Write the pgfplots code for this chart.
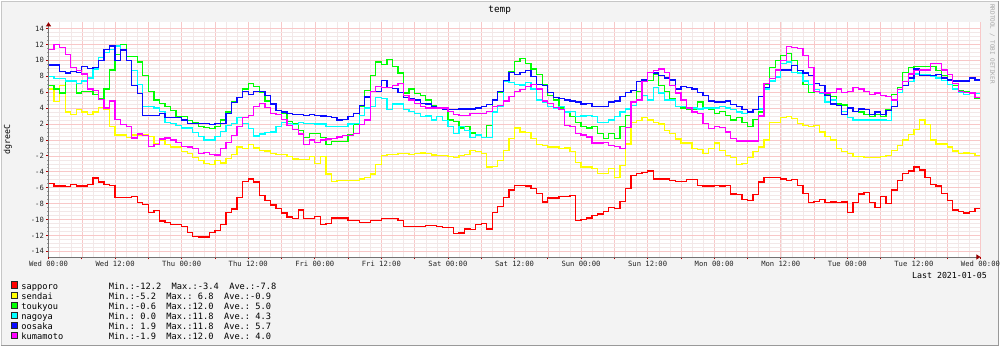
\documentclass[border=0pt]{standalone}
\usepackage{fontspec}
\setmainfont{DejaVu Sans Mono}
\usepackage{pgfplots}
\pgfplotsset{compat=1.18}
\usepackage{pgfplotstable}
\usetikzlibrary{arrows.meta}

\definecolor{bgc}{RGB}{243,243,243}
\definecolor{mgrid}{RGB}{248,200,200}
\definecolor{ngrid}{RGB}{242,232,232}
\definecolor{arrowc}{RGB}{150,0,0}
\definecolor{cR}{RGB}{255,0,0}
\definecolor{cY}{RGB}{255,255,0}
\definecolor{cG}{RGB}{0,255,0}
\definecolor{cC}{RGB}{0,255,255}
\definecolor{cB}{RGB}{10,10,255}
\definecolor{cM}{RGB}{255,0,255}

\pgfplotstableread{
h s1 s2 s3 s4 s5 s6
0 -5.5 6.4 6.8 8.0 9.4 11.4
1 -5.8 4.8 6.4 7.7 9.4 12.0
2 -5.8 6.8 5.9 7.7 8.6 11.6
3 -5.9 3.5 7.5 7.4 8.4 10.7
4 -5.6 3.2 7.3 7.4 8.6 9.1
5 -5.8 3.8 5.9 7.1 8.5 8.7
6 -5.8 3.5 6.1 7.4 9.2 8.3
7 -5.6 3.2 6.1 7.8 9.0 6.4
8 -4.8 3.5 5.7 8.9 9.1 6.2
9 -5.3 4.1 5.2 10.4 10.0 5.1
10 -5.6 3.8 6.4 11.0 11.4 4.0
11 -5.7 1.7 8.8 11.4 11.8 4.9
12 -7.2 0.6 10.7 11.8 10.0 2.6
13 -7.2 0.6 12.0 11.4 11.3 1.9
14 -7.2 0.3 10.5 10.0 10.0 1.7
15 -7.1 0.6 10.5 8.7 6.8 0.25
16 -7.9 0.6 9.8 7.0 5.85 0.75
17 -8.1 0.6 8.1 4.2 3.1 0.55
18 -9.1 0.4 6.1 4.2 3.1 -0.8
19 -8.9 -0.5 5.0 4.0 3.1 -0.6
20 -10.2 -0.1 4.6 3.6 3.3 0.1
21 -10.4 -0.6 4.2 2.2 2.8 0.25
22 -10.6 -0.9 3.7 2.1 2.8 0.0
23 -10.6 -0.9 2.9 1.8 2.8 -0.3
24 -10.9 -1.5 2.9 1.5 2.5 -0.8
25 -11.6 -1.7 2.45 1.5 2.1 -0.9
26 -12.1 -2.2 2.2 0.96 2.1 -1.1
27 -12.2 -2.6 1.7 0.4 2.1 -1.7
28 -12.2 -3.0 1.6 0.0 2.1 -1.6
29 -11.6 -3.1 1.4 0.0 1.9 -1.8
30 -11.4 -2.6 1.7 0.4 2.1 -1.9
31 -10.6 -2.9 2.5 1.1 2.1 -1.1
32 -9.1 -2.3 3.5 1.8 3.3 -0.3
33 -8.7 -1.8 4.75 2.1 4.7 0.55
34 -7.2 -0.9 5.3 2.8 5.35 1.7
35 -5.2 -1.1 6.4 2.1 6.1 2.8
36 -4.9 -0.6 7.1 1.4 5.7 3.05
37 -5.3 -1.0 6.7 0.5 6.1 4.2
38 -7.0 -1.3 6.0 0.75 6.1 4.6
39 -7.6 -1.4 4.9 0.96 5.6 4.1
40 -8.2 -1.7 4.6 1.0 4.5 3.3
41 -8.6 -1.8 3.7 1.7 3.7 3.2
42 -9.2 -1.8 3.3 2.2 3.5 2.6
43 -9.7 -2.1 2.3 2.1 3.3 1.8
44 -9.9 -2.4 2.0 1.9 3.2 1.3
45 -8.8 -2.5 1.2 2.2 3.2 0.75
46 -9.9 -2.5 0.3 2.1 3.05 -0.6
47 -9.9 -2.1 0.8 2.1 3.2 0.0
48 -9.6 -3.0 0.8 2.0 3.1 -0.3
49 -10.6 -2.1 0.3 2.0 3.0 0.0
50 -10.5 -4.3 -0.6 1.7 2.9 0.1
51 -9.8 -5.2 -0.2 1.7 2.8 0.15
52 -9.8 -5.1 -0.2 1.7 2.5 0.35
53 -9.8 -5.1 -0.2 1.7 2.6 0.55
54 -10.1 -5.1 0.6 2.0 2.9 0.55
55 -10.1 -5.1 2.0 2.1 3.35 0.8
56 -10.4 -4.9 4.2 3.1 4.3 1.95
57 -10.4 -4.7 6.2 4.0 5.4 2.5
58 -10.1 -4.3 8.1 4.2 6.1 6.1
59 -10.1 -3.1 9.8 5.3 6.1 6.7
60 -9.9 -2.0 9.5 5.2 7.5 6.6
61 -9.9 -1.8 10.1 3.8 6.6 6.6
62 -9.9 -1.8 9.2 4.5 6.5 6.8
63 -10.1 -1.7 8.4 4.5 6.0 7.1
64 -10.9 -1.7 5.9 3.8 5.3 5.6
65 -10.9 -1.8 6.4 3.6 5.2 5.0
66 -10.9 -1.7 5.8 3.3 5.0 4.6
67 -10.9 -1.65 5.6 2.9 4.6 4.2
68 -10.8 -1.7 5.0 3.0 4.5 4.0
69 -10.8 -1.9 4.3 2.5 4.2 4.0
70 -10.9 -2.0 4.0 2.9 4.0 4.0
71 -11.0 -2.0 3.9 2.4 3.8 4.0
72 -11.0 -2.1 2.5 1.7 3.8 3.6
73 -11.8 -2.2 2.35 0.8 3.8 3.2
74 -11.7 -2.0 1.5 1.7 3.9 3.1
75 -11.2 -1.8 1.7 1.2 3.9 3.1
76 -11.3 -1.3 0.85 0.3 3.9 3.3
77 -10.6 -1.5 0.7 0.6 4.0 3.35
78 -10.5 -1.7 0.3 0.3 4.2 3.35
79 -11.2 -3.4 1.8 0.3 4.45 3.6
80 -9.1 -3.3 5.0 3.5 5.0 4.2
81 -8.4 -2.6 6.0 4.2 6.1 4.3
82 -7.2 -1.3 7.5 7.3 7.5 4.9
83 -6.3 0.15 8.6 7.2 8.5 5.5
84 -5.7 1.5 9.9 7.0 8.2 6.1
85 -5.7 1.0 10.2 6.9 8.5 6.3
86 -5.8 0.9 9.6 7.2 8.7 6.7
87 -6.1 0.15 8.9 6.4 8.0 7.0
88 -6.7 -0.6 8.2 5.0 7.0 6.4
89 -7.8 -0.7 7.0 4.7 6.8 4.9
90 -7.3 -0.9 5.6 4.2 6.0 4.6
91 -7.3 -0.9 5.0 4.0 5.3 4.1
92 -7.1 -1.1 4.0 4.2 5.2 3.8
93 -7.1 -1.0 3.6 3.5 5.0 1.8
94 -7.0 -1.5 2.9 3.6 4.9 1.7
95 -10.1 -2.8 2.2 2.95 4.75 0.8
96 -10.0 -3.4 1.7 3.0 4.5 0.6
97 -9.8 -3.4 1.5 3.1 4.6 0.35
98 -9.5 -3.6 1.7 2.9 4.2 -0.4
99 -9.3 -4.2 0.8 2.2 4.2 -0.4
100 -9.0 -4.2 0.15 2.2 4.2 -0.3
101 -8.5 -3.6 0.8 2.5 4.75 -0.7
102 -8.6 -4.7 0.15 2.9 4.9 -0.8
103 -7.7 -3.2 1.7 3.5 5.5 -1.1
104 -6.1 -0.5 3.1 3.9 6.0 1.6
105 -4.5 2.2 4.75 4.3 6.2 4.75
106 -4.2 2.4 6.1 5.0 7.3 5.0
107 -4.1 2.8 7.3 5.6 7.55 7.3
108 -3.9 2.5 7.5 5.0 8.5 8.5
109 -4.9 2.2 8.2 6.6 8.4 8.7
110 -4.9 2.0 6.8 5.9 8.1 8.9
111 -4.9 1.2 6.1 5.0 7.8 8.5
112 -5.1 0.8 5.2 5.0 7.55 6.8
113 -5.2 0.1 4.2 4.2 6.4 5.9
114 -5.2 -0.4 4.0 4.2 6.7 5.0
115 -5.0 -0.4 3.9 4.0 6.55 4.0
116 -5.0 -1.1 3.8 4.0 6.4 3.5
117 -5.7 -1.2 4.75 3.9 6.0 3.35
118 -5.8 -1.7 4.0 4.0 5.6 2.1
119 -5.8 -1.1 3.9 4.0 4.9 1.4
120 -5.7 -0.4 3.3 4.0 4.75 1.7
121 -5.8 -1.3 3.6 4.2 4.75 1.6
122 -5.7 -1.95 3.1 4.0 4.9 1.0
123 -6.8 -2.2 2.5 3.8 4.45 0.15
124 -6.9 -3.1 2.8 3.5 4.2 -0.15
125 -7.5 -3.0 2.2 3.3 3.8 -0.15
126 -7.6 -2.2 1.7 3.6 3.5 -0.15
127 -6.9 -1.5 2.6 3.8 3.8 -0.15
128 -5.3 -0.9 3.5 3.9 5.5 3.0
129 -4.75 0.0 7.0 6.4 6.6 7.1
130 -4.75 2.2 9.1 7.4 7.7 7.7
131 -4.75 2.2 10.0 7.9 8.8 8.8
132 -4.9 2.8 10.6 9.6 8.8 10.0
133 -5.1 2.95 10.9 9.8 8.8 11.7
134 -5.0 2.7 10.0 8.5 9.35 11.6
135 -5.7 2.1 8.4 8.4 8.7 11.5
136 -6.7 1.8 7.0 7.4 8.4 10.6
137 -7.9 1.7 6.0 7.0 8.1 9.1
138 -7.7 1.8 6.1 6.3 7.1 6.1
139 -7.5 1.0 5.8 5.9 6.8 6.0
140 -7.9 0.45 5.7 4.75 5.6 5.9
141 -7.8 0.0 5.5 5.0 4.5 6.0
142 -7.9 -1.1 4.5 4.3 4.3 6.4
143 -7.8 -1.5 4.4 3.6 3.2 6.0
144 -9.1 -1.7 4.1 2.8 4.0 6.1
145 -7.9 -2.1 3.6 2.5 3.6 6.55
146 -6.8 -2.1 3.5 2.5 3.9 6.4
147 -6.6 -2.2 3.2 2.5 3.8 6.1
148 -7.9 -2.2 2.95 2.5 3.2 5.7
149 -8.5 -2.2 3.2 2.5 3.5 5.9
150 -7.1 -2.1 2.9 2.5 3.2 5.6
151 -8.0 -2.0 3.8 2.45 3.7 5.45
152 -6.3 -1.3 5.7 5.0 4.2 5.0
153 -5.1 -0.7 6.6 6.0 6.3 6.3
154 -4.2 0.0 8.5 6.8 6.8 7.3
155 -3.9 0.7 9.1 7.3 7.8 8.3
156 -3.4 1.3 9.2 8.3 8.9 8.7
157 -3.8 2.5 9.2 8.2 8.1 8.8
158 -4.7 1.95 9.2 8.2 8.1 8.8
159 -5.6 0.0 9.2 8.0 8.1 9.6
160 -5.8 -0.5 8.7 7.8 8.2 9.6
161 -6.7 -0.5 8.1 7.5 7.8 8.8
162 -7.6 -0.9 7.5 7.0 7.55 8.2
163 -8.8 -1.4 6.8 6.4 7.4 7.1
164 -9.0 -1.7 6.2 6.0 7.4 6.1
165 -9.2 -1.65 6.1 5.7 7.4 6.0
166 -9.0 -1.7 6.0 5.8 7.8 5.9
167 -8.6 -1.95 5.2 5.8 7.55 5.3
168 -8.6 -1.95 5.2 5.8 7.55 5.3
}\datatable

\pgfplotsset{
  sq/.style={legend image code/.code={\filldraw[draw=black!85,fill=#1,line width=0.6pt] (0.3pt,-1pt) rectangle (5.7pt,5.3pt);}},
}

\begin{document}
\begin{tikzpicture}[x=1pt,y=1pt]
\fill[bgc] (0,0) rectangle (1000,346);
\draw[gray!45,line width=1pt] (0.5,0.5) rectangle (999.5,345.5);
\draw[gray!80,line width=1.2pt] (999.4,0) -- (999.4,346);
\draw[gray!80,line width=1.2pt] (0,0.6) -- (1000,0.6);
\useasboundingbox (0,0) rectangle (1000,346);
\begin{axis}[
  at={(48pt,89.3pt)}, anchor=south west,
  scale only axis, width=933pt, height=235pt,
  xmin=0, xmax=168, ymin=-14.72, ymax=14.79,
  axis background/.style={fill=white},
  axis x line*=bottom, axis y line*=left,
  axis line style={black!55, line width=0.8pt},
  x axis line style={-{Triangle[length=4pt,width=5pt,color=arrowc]}},
  y axis line style={-{Triangle[length=4pt,width=5pt,color=arrowc]}},
  xtick={0,6,...,168},
  minor xtick={0,2,...,168},
  xticklabels={Wed 00:00,,Wed 12:00,,Thu 00:00,,Thu 12:00,,Fri 00:00,,Fri 12:00,,Sat 00:00,,Sat 12:00,,Sun 00:00,,Sun 12:00,,Mon 00:00,,Mon 12:00,,Tue 00:00,,Tue 12:00,,Wed 00:00},
  ytick={-14,-12,...,14},
  yticklabels={-14,-12,-10,-8,-6,-4,-2,0,2,4,6,8,10,12,14},
  minor y tick num=3,
  grid=both,
  major grid style={mgrid, line width=0.5pt},
  minor grid style={ngrid, line width=0.4pt},
  tick align=outside,
  major tick length=2.5pt, minor tick length=1.2pt,
  major tick style={red!70!black, line width=0.7pt},
  minor tick style={black!40, line width=0.5pt},
  tick label style={font=\fontsize{7.2}{8}\selectfont, text=black!85},
  xticklabel style={inner sep=0pt, anchor=north, yshift=-1pt},
  yticklabel style={inner sep=0pt, anchor=east, xshift=-2pt},
  ylabel={dgreeC},
  ylabel style={at={(axis description cs:-0.0436,0.5)}, anchor=center, font=\fontsize{8.3}{10}\selectfont},
  legend style={at={(axis description cs:-0.040,-0.1034)}, anchor=north west, draw=none, fill=none,
    font=\fontsize{8.7}{10}\selectfont, inner sep=0pt, row sep=0.5pt,
    nodes={inner sep=0pt, text height=6.3pt, text depth=1.8pt},
    /tikz/every odd column/.append style={column sep=4pt}},
  legend cell align=left,
  every axis plot/.append style={const plot, line width=1.3pt, line join=miter},
]
\addplot[cR, sq=cR] table[x=h,y=s1] {\datatable};
\addlegendentry{\makebox[87.6pt][l]{sapporo}Min.:-12.2\ \ Max.:-3.4\ \ Ave.:-7.8}
\addplot[cY, sq=cY] table[x=h,y=s2] {\datatable};
\addlegendentry{\makebox[87.6pt][l]{sendai}Min.:-5.2\ \ Max.:\ 6.8\ \ Ave.:-0.9}
\addplot[cG, sq=cG] table[x=h,y=s3] {\datatable};
\addlegendentry{\makebox[87.6pt][l]{toukyou}Min.:-0.6\ \ Max.:12.0\ \ Ave.:\ 5.0}
\addplot[cC, sq=cC] table[x=h,y=s4] {\datatable};
\addlegendentry{\makebox[87.6pt][l]{nagoya}Min.:\ 0.0\ \ Max.:11.8\ \ Ave.:\ 4.3}
\addplot[cB, sq=cB] table[x=h,y=s5] {\datatable};
\addlegendentry{\makebox[87.6pt][l]{oosaka}Min.:\ 1.9\ \ Max.:11.8\ \ Ave.:\ 5.7}
\addplot[cM, sq=cM] table[x=h,y=s6] {\datatable};
\addlegendentry{\makebox[87.6pt][l]{kumamoto}Min.:-1.9\ \ Max.:12.0\ \ Ave.:\ 4.0}
\end{axis}
\node[anchor=center, font=\fontsize{9.4}{11}\selectfont, inner sep=0pt] at (499.7,336) {temp};
\node[anchor=base east, font=\fontsize{8.3}{10}\selectfont, inner sep=0pt] at (987.7,68) {Last 2021-01-05};
\node[rotate=-90, font=\fontsize{6}{7}\selectfont, text=black!35, inner sep=0pt] at (993,302.5) {RRDTOOL / TOBI OETIKER};
\end{tikzpicture}
\end{document}
